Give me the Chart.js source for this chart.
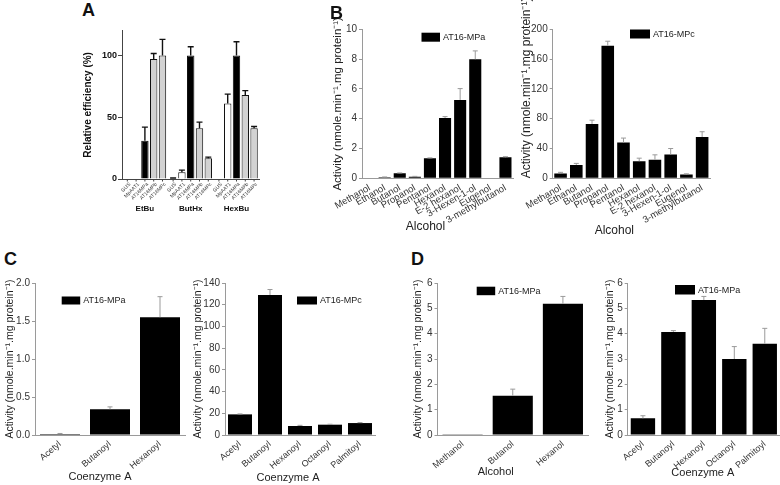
<!DOCTYPE html>
<html>
<head>
<meta charset="utf-8">
<script src="https://cdn.jsdelivr.net/npm/chart.js@4.4.1/dist/chart.umd.min.js"></script>
<style>
  html, body { margin: 0; background: #fff; }
  #hoja { position: relative; width: 780px; height: 485px; overflow: hidden; font-family: "Liberation Sans", Arial, sans-serif; }
  #hoja canvas { position: absolute; }
  .letra { position: absolute; font-weight: bold; font-size: 18px; line-height: 1; color: #111; }
</style>
</head>
<body>
<div id="hoja">
  <canvas id="graficoA"></canvas>
  <canvas id="graficoB1"></canvas>
  <canvas id="graficoB2"></canvas>
  <canvas id="graficoC1"></canvas>
  <canvas id="graficoC2"></canvas>
  <canvas id="graficoD1"></canvas>
  <canvas id="graficoD2"></canvas>
  <div class="letra" style="left:82px;top:1px">A</div>
  <div class="letra" style="left:330px;top:4px">B</div>
  <div class="letra" style="left:4px;top:250px">C</div>
  <div class="letra" style="left:411px;top:250px">D</div>
</div>
<script>
const FONT = '"Liberation Sans", Arial, sans-serif';
const ACTIVITY = 'Activity (nmole.min\u207B\u00B9.mg protein\u207B\u00B9)';

// A - relative efficiency (%)
const groupsA = ['EtBu', 'ButHx', 'HexBu'];
const enzymesA = ['GUS', 'MpAAT1', 'AT16MPa', 'AT16MPb', 'AT16MPc'];
const gusA = [0, 0.5, 0];
const mpaat1A = [0, 5.4, 61];
const at16mpaA = [31, 100, 100];
const at16mpbA = [97, 41, 68];
const at16mpcA = [100, 16.7, 41];
const gusErrA = [0, 0.3, 0];
const mpaat1ErrA = [0, 1.8, 7.7];
const at16mpaErrA = [11, 7, 11];
const at16mpbErrA = [4.5, 5, 3.5];
const at16mpcErrA = [13, 1, 1.5];
const ticksA = [0, 50, 100];

// B - alcohols
const alcoholsB = ['Methanol', 'Ethanol', 'Butanol', 'Propanol', 'Pentanol', 'Hexanol', 'E-2 hexanol', '3-Hexen-1-ol', 'Eugenol', '3-methylbutanol'];
const mpaB = [0, 0.07, 0.34, 0.11, 1.34, 4.05, 5.26, 7.99, 0.04, 1.41];
const mpaErrB = [0, 0.02, 0.02, 0.02, 0.03, 0.09, 0.76, 0.56, 0, 0.04];
const mpcB = [6.5, 18, 73, 178, 48, 23, 25, 32, 5, 55.5];
const mpcErrB = [1.5, 2, 5, 6, 6, 4, 6.5, 8, 1, 7];

// C - coenzyme A, acyl donors
const acylC1 = ['Acetyl', 'Butanoyl', 'Hexanoyl'];
const mpaC = [0.013, 0.34, 1.55];
const mpaErrC = [0.007, 0.03, 0.27];
const acylC2 = ['Acetyl', 'Butanoyl', 'Hexanoyl', 'Octanoyl', 'Palmitoyl'];
const mpcC = [19, 129, 8.3, 9.5, 11];
const mpcErrC = [0.4, 5, 0.6, 0.4, 0.4];

// D
const alcoholsD = ['Methanol', 'Butanol', 'Hexanol'];
const mpaD1 = [0.03, 1.55, 5.18];
const mpaErrD1 = [0, 0.26, 0.29];
const acylD = ['Acetyl', 'Butanoyl', 'Hexanoyl', 'Octanoyl', 'Palmitoyl'];
const mpaD2 = [0.66, 4.07, 5.33, 3.0, 3.6];
const mpaErrD2 = [0.1, 0.05, 0.14, 0.49, 0.61];

Chart.defaults.font.family = FONT;
Chart.defaults.color = '#333';

const errorBars = {
  id: 'errorBars',
  afterDatasetsDraw(chart, args, opts) {
    const ctx = chart.ctx;
    const y = chart.scales.y;
    ctx.save();
    ctx.strokeStyle = opts.color;
    ctx.lineWidth = opts.width;
    chart.data.datasets.forEach((ds, i) => {
      if (!ds.errors) return;
      chart.getDatasetMeta(i).data.forEach((bar, j) => {
        const err = ds.errors[j];
        if (!err) return;
        const top = y.getPixelForValue(ds.data[j] + err);
        ctx.beginPath();
        ctx.moveTo(bar.x, bar.y);
        ctx.lineTo(bar.x, top);
        ctx.moveTo(bar.x - opts.cap, top);
        ctx.lineTo(bar.x + opts.cap, top);
        ctx.stroke();
      });
    });
    ctx.restore();
  }
};

const boxLegend = {
  id: 'boxLegend',
  afterDraw(chart, args, o) {
    if (!o.w) return;
    const ctx = chart.ctx;
    ctx.save();
    ctx.fillStyle = '#000';
    ctx.fillRect(o.x, o.y, o.w, o.h);
    ctx.font = o.size + 'px ' + FONT;
    ctx.fillStyle = '#222';
    ctx.textBaseline = 'middle';
    ctx.fillText(chart.data.datasets[0].label, o.x + o.w + 3, o.y + o.h / 2 + 0.5);
    ctx.restore();
  }
};

// x axis caption, a bit off the plot centre like in the original figure
const xCaption = {
  id: 'xCaption',
  afterDraw(chart, args, o) {
    if (!o.text) return;
    const ctx = chart.ctx;
    const a = chart.chartArea;
    ctx.save();
    ctx.font = o.size + 'px ' + FONT;
    ctx.fillStyle = '#222';
    ctx.textAlign = 'center';
    ctx.textBaseline = 'middle';
    ctx.fillText(o.text, (a.left + a.right) / 2 + o.dx, o.y);
    ctx.restore();
  }
};

// enzyme names under every bar of panel A
const barNames = {
  id: 'barNames',
  afterDraw(chart) {
    const ctx = chart.ctx;
    const base = chart.chartArea.bottom;
    ctx.save();
    ctx.font = '5px ' + FONT;
    ctx.fillStyle = '#333';
    ctx.strokeStyle = '#444';
    ctx.lineWidth = 1;
    ctx.textAlign = 'right';
    ctx.textBaseline = 'middle';
    chart.data.datasets.forEach((ds, i) => {
      chart.getDatasetMeta(i).data.forEach(bar => {
        ctx.beginPath();
        ctx.moveTo(bar.x, base);
        ctx.lineTo(bar.x, base + 2.5);
        ctx.stroke();
        ctx.save();
        ctx.translate(bar.x + 2.5, base + 4.5);
        ctx.rotate(-Math.PI / 4);
        ctx.fillText(ds.label, 0, 0);
        ctx.restore();
      });
    });
    ctx.restore();
  }
};

function placeCanvas(id, box) {
  const c = document.getElementById(id);
  c.width = box.w;
  c.height = box.h;
  c.style.left = box.x + 'px';
  c.style.top = box.y + 'px';
  return c.getContext('2d');
}

function efficiencyChart() {
  const box = {x: 75, y: 20, w: 200, h: 200};
  const area = {l: 122, t: 30.7, r: 270, b: 179};
  const ctx = placeCanvas('graficoA', box);
  const series = [gusA, mpaat1A, at16mpaA, at16mpbA, at16mpcA];
  const errs = [gusErrA, mpaat1ErrA, at16mpaErrA, at16mpbErrA, at16mpcErrA];
  const fills = ['#fff', '#fff', '#000', '#d2d2d2', '#d2d2d2'];

  new Chart(ctx, {
    type: 'bar',
    data: {
      labels: groupsA,
      datasets: enzymesA.map((name, i) => ({
        label: name,
        data: series[i],
        errors: errs[i],
        backgroundColor: fills[i],
        borderColor: '#111',
        borderWidth: 1,
        categoryPercentage: 0.96,
        barPercentage: 0.84
      }))
    },
    options: {
      responsive: false,
      animation: false,
      layout: { padding: { top: area.t - box.y, right: box.x + box.w - area.r, left: 0, bottom: 0 } },
      plugins: {
        legend: { display: false },
        tooltip: { enabled: false },
        errorBars: { color: '#111', width: 1.4, cap: 3 }
      },
      scales: {
        x: {
          afterFit: s => { s.height = box.y + box.h - area.b; },
          grid: { display: false, drawTicks: false },
          border: { display: true, color: '#444' },
          ticks: { font: { size: 8, weight: 'bold' }, color: '#111', padding: 25, autoSkip: false, maxRotation: 0 }
        },
        y: {
          min: 0,
          max: 120,
          afterFit: s => { s.width = area.l - box.x; },
          afterBuildTicks: s => { s.ticks = ticksA.map(v => ({ value: v })); },
          grid: { drawOnChartArea: false, tickLength: 4, color: '#444' },
          border: { color: '#444' },
          ticks: { font: { size: 9, weight: 'bold' }, color: '#111', padding: 1 },
          title: { display: true, text: 'Relative efficiency (%)', font: { size: 10, weight: 'bold' }, color: '#111', padding: { top: 7, bottom: 0 } }
        }
      }
    },
    plugins: [errorBars, barNames]
  });
}

function activityChart(id, p) {
  const box = p.box, area = p.area;
  const ctx = placeCanvas(id, box);
  new Chart(ctx, {
    type: 'bar',
    data: {
      labels: p.labels,
      datasets: [{
        label: p.series,
        data: p.values,
        errors: p.errors,
        backgroundColor: '#000',
        barPercentage: 0.8,
        categoryPercentage: 1
      }]
    },
    options: {
      responsive: false,
      animation: false,
      layout: { padding: { top: area.t - box.y, right: box.x + box.w - area.r, left: 0, bottom: 0 } },
      plugins: {
        legend: { display: false },
        tooltip: { enabled: false },
        errorBars: { color: '#9a9a9a', width: 1, cap: 2.5 },
        boxLegend: { x: p.legend[0] - box.x, y: p.legend[1] - box.y, w: p.legend[2], h: p.legend[3], size: 9 },
        xCaption: { text: p.xTitle, size: p.xSize, dx: p.xTitleDx, y: p.xTitleY - box.y }
      },
      scales: {
        x: {
          afterFit: s => { s.height = box.y + box.h - area.b; },
          grid: { display: false, drawTicks: false },
          border: { display: true, color: '#9a9a9a' },
          ticks: { font: { size: p.tickSize }, padding: 4, autoSkip: false, minRotation: p.rot, maxRotation: p.rot }
        },
        y: {
          min: 0,
          max: p.max,
          afterFit: s => { s.width = area.l - box.x; },
          grid: { drawOnChartArea: false, tickLength: 3, color: '#9a9a9a' },
          border: { color: '#9a9a9a' },
          ticks: { stepSize: p.step, font: { size: 10 }, padding: 2, callback: v => v.toFixed(p.decimals || 0) },
          title: { display: true, text: ACTIVITY, align: p.yAlign, font: { size: p.ySize }, color: '#222', padding: { top: p.yPad, bottom: 0 } }
        }
      }
    },
    plugins: [errorBars, boxLegend, xCaption]
  });
}

efficiencyChart();

activityChart('graficoB1', {
  box: {x: 300, y: 0, w: 218, h: 245}, area: {l: 362, t: 29.3, r: 513, b: 178.3},
  labels: alcoholsB, series: 'AT16-MPa', values: mpaB, errors: mpaErrB,
  max: 10, step: 2, rot: 30, tickSize: 9.5,
  xTitle: 'Alcohol', xSize: 12, xTitleDx: -12, xTitleY: 227,
  ySize: 11.5, yPad: 31, yAlign: 'center',
  legend: [421.5, 32.7, 18.5, 9]
});

activityChart('graficoB2', {
  box: {x: 505, y: 0, w: 215, h: 245}, area: {l: 552.7, t: 29.3, r: 710, b: 178.3},
  labels: alcoholsB, series: 'AT16-MPc', values: mpcB, errors: mpcErrB,
  max: 200, step: 20, rot: 30, tickSize: 9.5,
  xTitle: 'Alcohol', xSize: 12, xTitleDx: -17, xTitleY: 231,
  ySize: 12, yPad: 14.5, yAlign: 'start',
  legend: [630, 29.5, 20, 9]
});

activityChart('graficoC1', {
  box: {x: 0, y: 275, w: 195, h: 210}, area: {l: 35, t: 282.7, r: 185, b: 435},
  labels: acylC1, series: 'AT16-MPa', values: mpaC, errors: mpaErrC,
  max: 2, step: 0.5, decimals: 1, rot: 40, tickSize: 9,
  xTitle: 'Coenzyme A', xSize: 11, xTitleDx: -10, xTitleY: 476.5,
  ySize: 10.5, yPad: 3.7, yAlign: 'center',
  legend: [61.7, 296.5, 18.5, 8]
});

activityChart('graficoC2', {
  box: {x: 185, y: 275, w: 195, h: 210}, area: {l: 225, t: 282.7, r: 375, b: 435},
  labels: acylC2, series: 'AT16-MPc', values: mpcC, errors: mpcErrC,
  max: 140, step: 20, rot: 40, tickSize: 9,
  xTitle: 'Coenzyme A', xSize: 11, xTitleDx: -12, xTitleY: 478,
  ySize: 10.5, yPad: 6.7, yAlign: 'center',
  legend: [297, 296.5, 20, 8]
});

activityChart('graficoD1', {
  box: {x: 400, y: 275, w: 195, h: 210}, area: {l: 437.5, t: 282.7, r: 588, b: 435},
  labels: alcoholsD, series: 'AT16-MPa', values: mpaD1, errors: mpaErrD1,
  max: 6, step: 1, rot: 40, tickSize: 9,
  xTitle: 'Alcohol', xSize: 11, xTitleDx: -17, xTitleY: 471.5,
  ySize: 10.5, yPad: 11.9, yAlign: 'center',
  legend: [476.7, 286.7, 18.5, 8.5]
});

activityChart('graficoD2', {
  box: {x: 595, y: 275, w: 185, h: 210}, area: {l: 627.7, t: 282.7, r: 780, b: 435},
  labels: acylD, series: 'AT16-MPa', values: mpaD2, errors: mpaErrD2,
  max: 6, step: 1, rot: 40, tickSize: 9,
  xTitle: 'Coenzyme A', xSize: 11, xTitleDx: -1, xTitleY: 473,
  ySize: 10.5, yPad: 8.7, yAlign: 'center',
  legend: [675, 285, 20, 9.5]
});
</script>
</body>
</html>
